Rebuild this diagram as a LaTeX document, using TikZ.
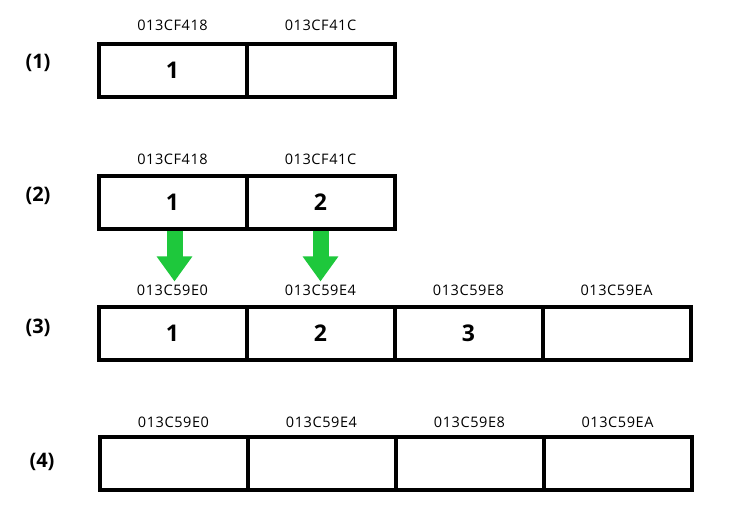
\documentclass[tikz,border=0pt]{standalone}
\usepackage{fontspec}
\setmainfont{Open Sans}
\newfontfamily\addrfont[LetterSpace=4]{Open Sans}
\usetikzlibrary{arrows.meta}
\definecolor{movegreen}{RGB}{30,200,60}

\begin{document}
\begin{tikzpicture}[x=1pt, y=-1pt,
    cell/.style={draw, line width=4pt, minimum width=148pt, minimum height=53pt, inner sep=0pt,
      font=\fontsize{23}{23}\selectfont\bfseries},
    addr/.style={inner sep=0pt, font=\addrfont\fontsize{14.5}{14.5}\selectfont},
    row label/.style={font=\fontsize{20}{20}\selectfont\bfseries},
    move/.style={movegreen, line width=16pt, -{Triangle[width=34pt, length=25pt]}}]
  \useasboundingbox (0,0) rectangle (729,520);

  % row labels
  \node[row label] (r1) at (38,63) {(1)};
  \node[row label] (r2) at (38,196) {(2)};
  \node[row label] (r3) at (38,328) {(3)};
  \node[row label] (r4) at (42,462) {(4)};

  % (1)
  \node[cell] (c11) at (172.5,70) {1};
  \node[cell] (c12) at (320.5,70) {};
  \node[addr] (a11) at (172.5,25) {013CF418};
  \node[addr] (a12) at (320.5,25) {013CF41C};

  % (2)
  \node[cell] (c21) at (172.5,202) {1};
  \node[cell] (c22) at (320.5,202) {2};
  \node[addr] (a21) at (172.5,159) {013CF418};
  \node[addr] (a22) at (320.5,159) {013CF41C};

  % (3)
  \foreach \i/\x/\val/\ad in {1/172.5/1/013C59E0, 2/320.5/2/013C59E4, 3/468.5/3/013C59E8, 4/616.5//013C59EA}{
    \node[cell] (c3\i) at (\x,333) {\val};
    \node[addr] (a3\i) at (\x,290) {\ad};
  }

  % (4)
  \foreach \i/\x/\ad in {1/173.5/013C59E0, 2/321.5/013C59E4, 3/469.5/013C59E8, 4/617.5/013C59EA}{
    \node[cell] (c4\i) at (\x,463) {};
    \node[addr] (a4\i) at (\x,422) {\ad};
  }

  % copy
  \draw[move, shorten >=3pt] ([xshift=2pt]c21.south) -- ([xshift=2pt]a31.north);
  \draw[move, shorten >=3pt] (c22.south) -- (a32.north);
\end{tikzpicture}
\end{document}
